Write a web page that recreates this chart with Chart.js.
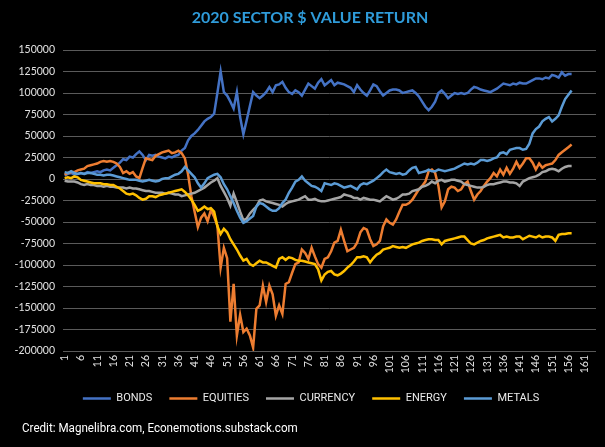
<!DOCTYPE html>
<html><head><meta charset="utf-8">
<script src="https://cdn.jsdelivr.net/npm/chart.js@4.4.1/dist/chart.umd.min.js"></script>
<style>
html,body{margin:0;padding:0;background:#000;}
#wrap{position:relative;width:605px;height:447px;background:#000;overflow:hidden;}
#credit{position:absolute;left:22px;top:420px;color:#fff;font-size:12.5px;font-family:Roboto,'Liberation Sans',sans-serif;white-space:nowrap;transform-origin:0 50%;transform:scaleX(0.93);}
</style></head><body>
<div id="wrap"><canvas id="c" width="605" height="447" style="width:605px;height:447px"></canvas><div id="credit">Credit: Magnelibra.com, Econemotions.substack.com</div></div>
<script>
const titleText = '2020 SECTOR $ VALUE RETURN';
const seriesNames = ['BONDS', 'EQUITIES', 'CURRENCY', 'ENERGY', 'METALS'];
const days = Array.from({length: 164}, (_, k) => String(k + 1));
const yTicks = [150000, 125000, 100000, 75000, 50000, 25000, 0, -25000, -50000, -75000, -100000, -125000, -150000, -175000, -200000];

const bonds = [
4000,6000,7000,5000,6000,7000,6000,8000,7000,8000,
9000,8000,10000,11000,10000,13000,16000,19000,23000,22000,
26000,25000,29000,32000,28000,22000,28000,27000,28000,26000,
25000,24000,26000,25000,27000,28000,33000,36000,45000,50000,
53000,57000,62000,67000,70000,72000,76000,100000,125000,101000,
97000,90000,82000,101000,72000,52000,68000,85000,101000,97000,
94000,97000,101000,107000,101000,109000,110000,113000,106000,101000,
99000,103000,101000,97000,104000,111000,108000,105000,112000,116000,
109000,112000,115000,109000,112000,111000,110000,108000,106000,101000,
109000,104000,100000,97000,103000,110000,108000,102000,97000,100000,
103000,104000,104000,103000,100000,101000,102000,103000,100000,96000,
90000,84000,80000,84000,90000,100000,103000,99000,94000,97000,
100000,99000,100000,99000,100000,104000,107000,106000,104000,103000,
102000,101000,103000,105000,108000,111000,110000,109000,111000,110000,
112000,111000,111000,113000,115000,117000,117000,116000,118000,117000,
121000,120000,118000,124000,120000,122000,122000];

const equities = [
5000,7000,8000,8000,10000,11000,12000,15000,16000,17000,
18000,20000,21000,20000,21000,20000,18000,14000,7000,9000,
6000,8000,3000,1000,13000,24000,23000,22000,27000,29000,
31000,32000,33000,30000,31000,33000,30000,24000,5000,-20000,
-38000,-56000,-45000,-40000,-49000,-36000,-44000,-54000,-103000,-80000,
-92000,-166000,-122000,-182000,-158000,-178000,-174000,-182000,-196000,-151000,
-147000,-124000,-143000,-124000,-134000,-159000,-147000,-157000,-122000,-120000,
-109000,-99000,-97000,-82000,-86000,-93000,-80000,-90000,-99000,-103000,
-93000,-91000,-84000,-74000,-72000,-59000,-72000,-84000,-82000,-80000,
-74000,-62000,-57000,-59000,-70000,-78000,-76000,-72000,-55000,-47000,
-51000,-53000,-47000,-38000,-30000,-30000,-28000,-24000,-18000,-12000,
-8000,-3000,9000,11000,7000,-8000,-33000,-26000,-12000,-9000,
-10000,-14000,-12000,-6000,-3000,-14000,-24000,-18000,-14000,-8000,
-3000,1000,7000,3000,11000,5000,13000,6000,12000,20000,
13000,18000,24000,24000,19000,11000,18000,13000,16000,17000,
18000,22000,28000,31000,34000,37000,40000];

const currency = [
-2000,-3000,-3000,-3000,-4000,-6000,-7000,-6000,-7000,-7000,
-8000,-8000,-9000,-8000,-9000,-9000,-10000,-10000,-10000,-11000,
-10000,-11000,-11000,-12000,-13000,-14000,-14000,-15000,-16000,-16000,
-16000,-17000,-16000,-17000,-18000,-18000,-20000,-19000,-18000,-17000,
-16000,-14000,-12000,-10000,-7000,-4000,-2000,1000,-8000,-15000,
-22000,-31000,-17000,-27000,-38000,-48000,-46000,-40000,-36000,-32000,
-25000,-24000,-26000,-27000,-28000,-29000,-30000,-32000,-29000,-27000,
-26000,-25000,-24000,-22000,-20000,-24000,-24000,-23000,-25000,-26000,
-26000,-25000,-24000,-23000,-22000,-21000,-18000,-19000,-20000,-22000,
-22000,-24000,-22000,-23000,-24000,-24000,-25000,-26000,-23000,-20000,
-22000,-24000,-23000,-21000,-18000,-18000,-17000,-14000,-13000,-12000,
-9000,-8000,-6000,-3000,-5000,-2000,-1000,-3000,-2000,-1000,
-1000,-2000,-3000,-6000,-7000,-8000,-9000,-10000,-10000,-9000,
-7000,-6000,-6000,-5000,-4000,-3000,-3000,-4000,-4000,-5000,
-8000,-3000,-1000,1000,2000,3000,5000,8000,9000,11000,
12000,11000,9000,12000,14000,15000,15000];

const energy = [
1000,2000,1000,3000,2000,-1000,-2000,-3000,-4000,-5000,
-5000,-5000,-6000,-6000,-7000,-7000,-9000,-11000,-14000,-17000,
-18000,-17000,-19000,-22000,-24000,-23000,-20000,-20000,-21000,-19000,
-18000,-17000,-16000,-15000,-14000,-13000,-12000,-15000,-19000,-24000,
-30000,-37000,-35000,-32000,-35000,-34000,-38000,-55000,-64000,-58000,
-62000,-70000,-76000,-82000,-89000,-95000,-93000,-99000,-101000,-98000,
-95000,-97000,-97000,-99000,-101000,-103000,-93000,-91000,-94000,-91000,
-92000,-94000,-95000,-95000,-96000,-97000,-98000,-99000,-105000,-118000,
-111000,-108000,-107000,-111000,-112000,-110000,-107000,-103000,-100000,-96000,
-91000,-91000,-90000,-91000,-97000,-92000,-88000,-86000,-82000,-81000,
-80000,-78000,-79000,-80000,-79000,-80000,-78000,-76000,-75000,-74000,
-72000,-71000,-70000,-70000,-71000,-71000,-76000,-72000,-71000,-70000,
-69000,-68000,-67000,-67000,-71000,-75000,-76000,-74000,-72000,-71000,
-69000,-68000,-67000,-66000,-65000,-68000,-67000,-68000,-68000,-67000,
-67000,-70000,-68000,-66000,-67000,-68000,-66000,-68000,-67000,-67000,
-68000,-72000,-65000,-64000,-64000,-63000,-63000];

const metals = [
8000,7000,9000,7000,6000,7000,6000,7000,7000,6000,
5000,5000,4000,5000,5000,4000,3000,2000,1000,0,
-1000,-1000,-1000,-2000,-3000,-2000,-1000,-2000,-3000,-2000,
0,1000,1000,3000,5000,6000,9000,14000,10000,6000,
2000,-5000,-10000,-5000,1000,3000,5000,6000,2000,-6000,
-12000,-20000,-28000,-37000,-45000,-51000,-49000,-46000,-43000,-32000,
-28000,-29000,-32000,-35000,-37000,-37000,-34000,-28000,-24000,-16000,
-10000,-3000,-1000,3000,-2000,-5000,-8000,-9000,-11000,-14000,
-5000,-6000,-7000,-5000,-6000,-8000,-10000,-9000,-8000,-10000,
-12000,-7000,-5000,-6000,-4000,-2000,1000,4000,8000,11000,
8000,7000,6000,7000,5000,6000,10000,13000,14000,7000,
8000,9000,11000,9000,9000,11000,10000,9000,10000,11000,
12000,14000,16000,18000,17000,18000,17000,19000,22000,22000,
21000,22000,24000,25000,30000,31000,29000,34000,35000,36000,
36000,34000,35000,41000,53000,58000,61000,67000,70000,72000,
67000,70000,74000,84000,93000,98000,103000];

const seriesValues = [bonds, equities, currency, energy, metals];
const seriesColors = ['#4472C4', '#ED7D31', '#A5A5A5', '#FFC000', '#5B9BD5'];

const datasets = seriesNames.map((name, k) => ({
  label: name,
  data: seriesValues[k],
  borderColor: seriesColors[k],
  backgroundColor: seriesColors[k],
  borderWidth: 2.5,
  pointRadius: 0,
  pointHoverRadius: 0,
  tension: 0,
  fill: false,
  order: seriesNames.length - 1 - k
}));

const layoutFix = {
  id: 'layoutFix',
  beforeInit(chart) {
    const origFit = chart.legend.fit;
    chart.legend.fit = function () {
      origFit.call(this);
      this.height = 38;
    };
  },
  afterLayout(chart) {
    const lg = chart.legend;
    lg.top = 376;
    lg.bottom = lg.top + lg.height;
    lg.left += 13;
    lg.right += 13;
    const tb = chart.titleBlock;
    if (tb) { tb.left += 12; tb.right += 12; }
  }
};

new Chart(document.getElementById('c'), {
  type: 'line',
  data: { labels: days, datasets },
  plugins: [layoutFix],
  options: {
    responsive: false,
    animation: false,
    events: [],
    layout: { padding: { left: 0, right: 9, top: 0, bottom: 30 } },
    plugins: {
      title: {
        display: true,
        text: titleText,
        color: '#2F9BD9',
        font: { family: 'Lato', size: 16, weight: 'bold', lineHeight: 1.2 },
        padding: { top: 8, bottom: 22.8 }
      },
      legend: {
        display: true,
        position: 'bottom',
        labels: {
          color: '#EAEAEA',
          font: { family: 'Roboto', size: 11 },
          usePointStyle: true,
          pointStyle: 'line',
          pointStyleWidth: 28,
          boxHeight: 11,
          padding: 17,
          sort: (a, b) => a.datasetIndex - b.datasetIndex
        }
      },
      tooltip: { enabled: false }
    },
    scales: {
      x: {
        type: 'category',
        offset: true,
        grid: { display: false, drawTicks: false },
        border: { display: false },
        ticks: {
          color: '#E0E0E0',
          font: { family: 'Lato', size: 10.5 },
          autoSkip: false,
          maxRotation: 90,
          minRotation: 90,
          padding: 4,
          callback: function (value, index) { return index % 5 === 0 ? days[index] : null; }
        },
        afterFit: (s) => { s.height = 28; }
      },
      y: {
        min: -200000,
        max: 150000,
        grid: { color: '#5A5A5A', lineWidth: 1, drawTicks: false },
        border: { display: false },
        afterBuildTicks: (s) => { s.ticks = yTicks.map(v => ({ value: v })); },
        ticks: {
          color: '#E0E0E0',
          font: { family: 'Lato', size: 10.5 },
          padding: 8,
          callback: (v) => String(v)
        },
        afterFit: (s) => { s.width = 63; }
      }
    }
  }
});
</script>
</body></html>
